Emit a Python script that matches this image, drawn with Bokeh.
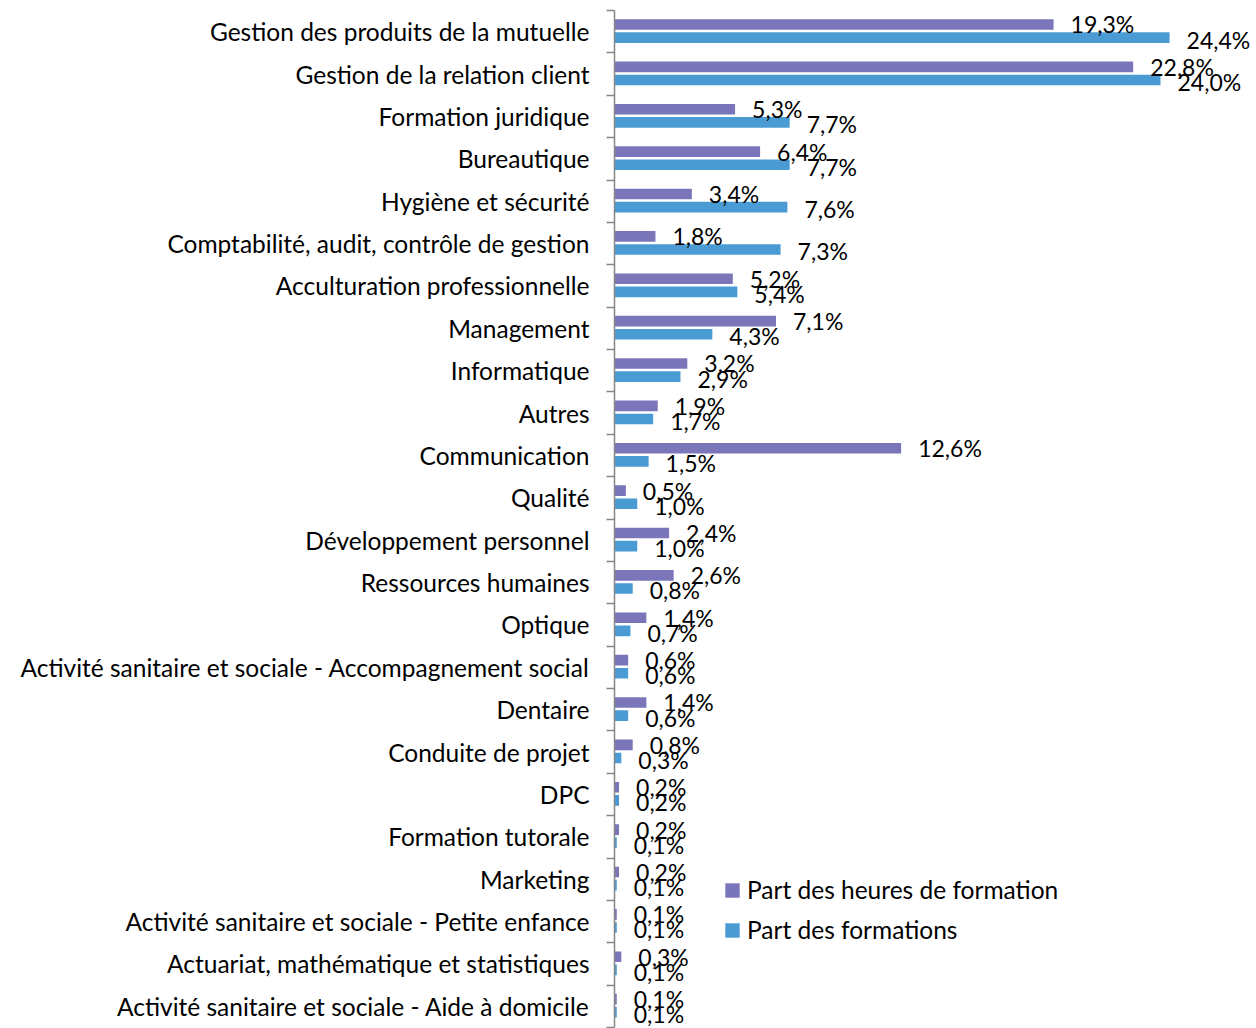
from bokeh.plotting import figure
from bokeh.models import Range1d, FixedTicker, ColumnDataSource, Legend, LegendItem, LinearAxis
from bokeh.core.properties import value
from bokeh.embed import file_html
from bokeh.resources import INLINE

categories = [
    "Gestion des produits de la mutuelle",
    "Gestion de la relation client",
    "Formation juridique",
    "Bureautique",
    "Hygiène et sécurité",
    "Comptabilité, audit, contrôle de gestion",
    "Acculturation professionnelle",
    "Management",
    "Informatique",
    "Autres",
    "Communication",
    "Qualité",
    "Développement personnel",
    "Ressources humaines",
    "Optique",
    "Activité sanitaire et sociale - Accompagnement social",
    "Dentaire",
    "Conduite de projet",
    "DPC",
    "Formation tutorale",
    "Marketing",
    "Activité sanitaire et sociale - Petite enfance",
    "Actuariat, mathématique et statistiques",
    "Activité sanitaire et sociale - Aide à domicile",
]
heures = [19.3, 22.8, 5.3, 6.4, 3.4, 1.8, 5.2, 7.1, 3.2, 1.9, 12.6, 0.5, 2.4, 2.6, 1.4, 0.6, 1.4, 0.8, 0.2, 0.2, 0.2, 0.1, 0.3, 0.1]
formations = [24.4, 24.0, 7.7, 7.7, 7.6, 7.3, 5.4, 4.3, 2.9, 1.7, 1.5, 1.0, 1.0, 0.8, 0.7, 0.6, 0.6, 0.3, 0.2, 0.1, 0.1, 0.1, 0.1, 0.1]
series_names = ["Part des heures de formation", "Part des formations"]
colors = ["#7A76B9", "#4A9BD3"]

FONT = "Lato"
FS = "24.5px"
FS_LAB = "23px"

n = len(categories)

def fmt(v):
    return f"{v:.1f}".replace(".", ",") + "%"

src_h = ColumnDataSource(dict(y=[i + 0.33 for i in range(n)], x=heures, lab=[fmt(v) for v in heures]))
src_f = ColumnDataSource(dict(y=[i + 0.64 for i in range(n)], x=formations, lab=[fmt(v) for v in formations]))

p = figure(width=1256, height=1028, output_backend="svg", toolbar_location=None,
           x_range=Range1d(0, 28.22), y_range=Range1d(n, 0),
           x_axis_location=None, y_axis_location=None,
           min_border_left=614, min_border_right=0, min_border_top=10, min_border_bottom=1)
p.grid.visible = False
p.outline_line_color = None
p.background_fill_color = "white"

r_h = p.hbar(y="y", right="x", left=0, height=0.25, source=src_h, fill_color=colors[0], line_color=None)
r_f = p.hbar(y="y", right="x", left=0, height=0.25, source=src_f, fill_color=colors[1], line_color=None)

p.text(x="x", y="y", text="lab", source=src_h, x_offset=17, y_offset=0, text_align="left",
       text_baseline="middle", text_font=value(FONT), text_font_size=FS_LAB, text_color="#000000")
p.text(x="x", y="y", text="lab", source=src_f, x_offset=17, y_offset=2, text_align="left",
       text_baseline="middle", text_font=value(FONT), text_font_size=FS_LAB, text_color="#000000")

ticks = [i + 0.5 for i in range(n)]
yaxis = LinearAxis(ticker=FixedTicker(ticks=ticks, minor_ticks=list(range(n + 1))))
yaxis.major_label_overrides = {t: c for t, c in zip(ticks, categories)}
yaxis.major_tick_line_color = None
yaxis.major_tick_out = 0
yaxis.major_tick_in = 0
yaxis.minor_tick_line_color = "#868686"
yaxis.minor_tick_out = 8
yaxis.minor_tick_in = 0
yaxis.axis_line_color = "#868686"
yaxis.axis_line_width = 1.5
yaxis.minor_tick_line_width = 1.5
yaxis.major_label_standoff = 17
yaxis.major_label_text_font = FONT
yaxis.major_label_text_font_size = FS
yaxis.major_label_text_color = "#000000"
p.add_layout(yaxis, "left")

legend = Legend(items=[LegendItem(label=series_names[0], renderers=[r_h]),
                       LegendItem(label=series_names[1], renderers=[r_f])],
                location=(109, 83), orientation="vertical")
legend.border_line_color = None
legend.background_fill_alpha = 0
legend.padding = 0
legend.margin = 0
legend.spacing = 11
legend.glyph_width = 18
legend.glyph_height = 18
legend.label_standoff = 6
legend.label_text_font = FONT
legend.label_text_font_size = FS
legend.label_text_color = "#000000"
p.add_layout(legend)

open("out.html", "w").write(file_html(p, INLINE))
